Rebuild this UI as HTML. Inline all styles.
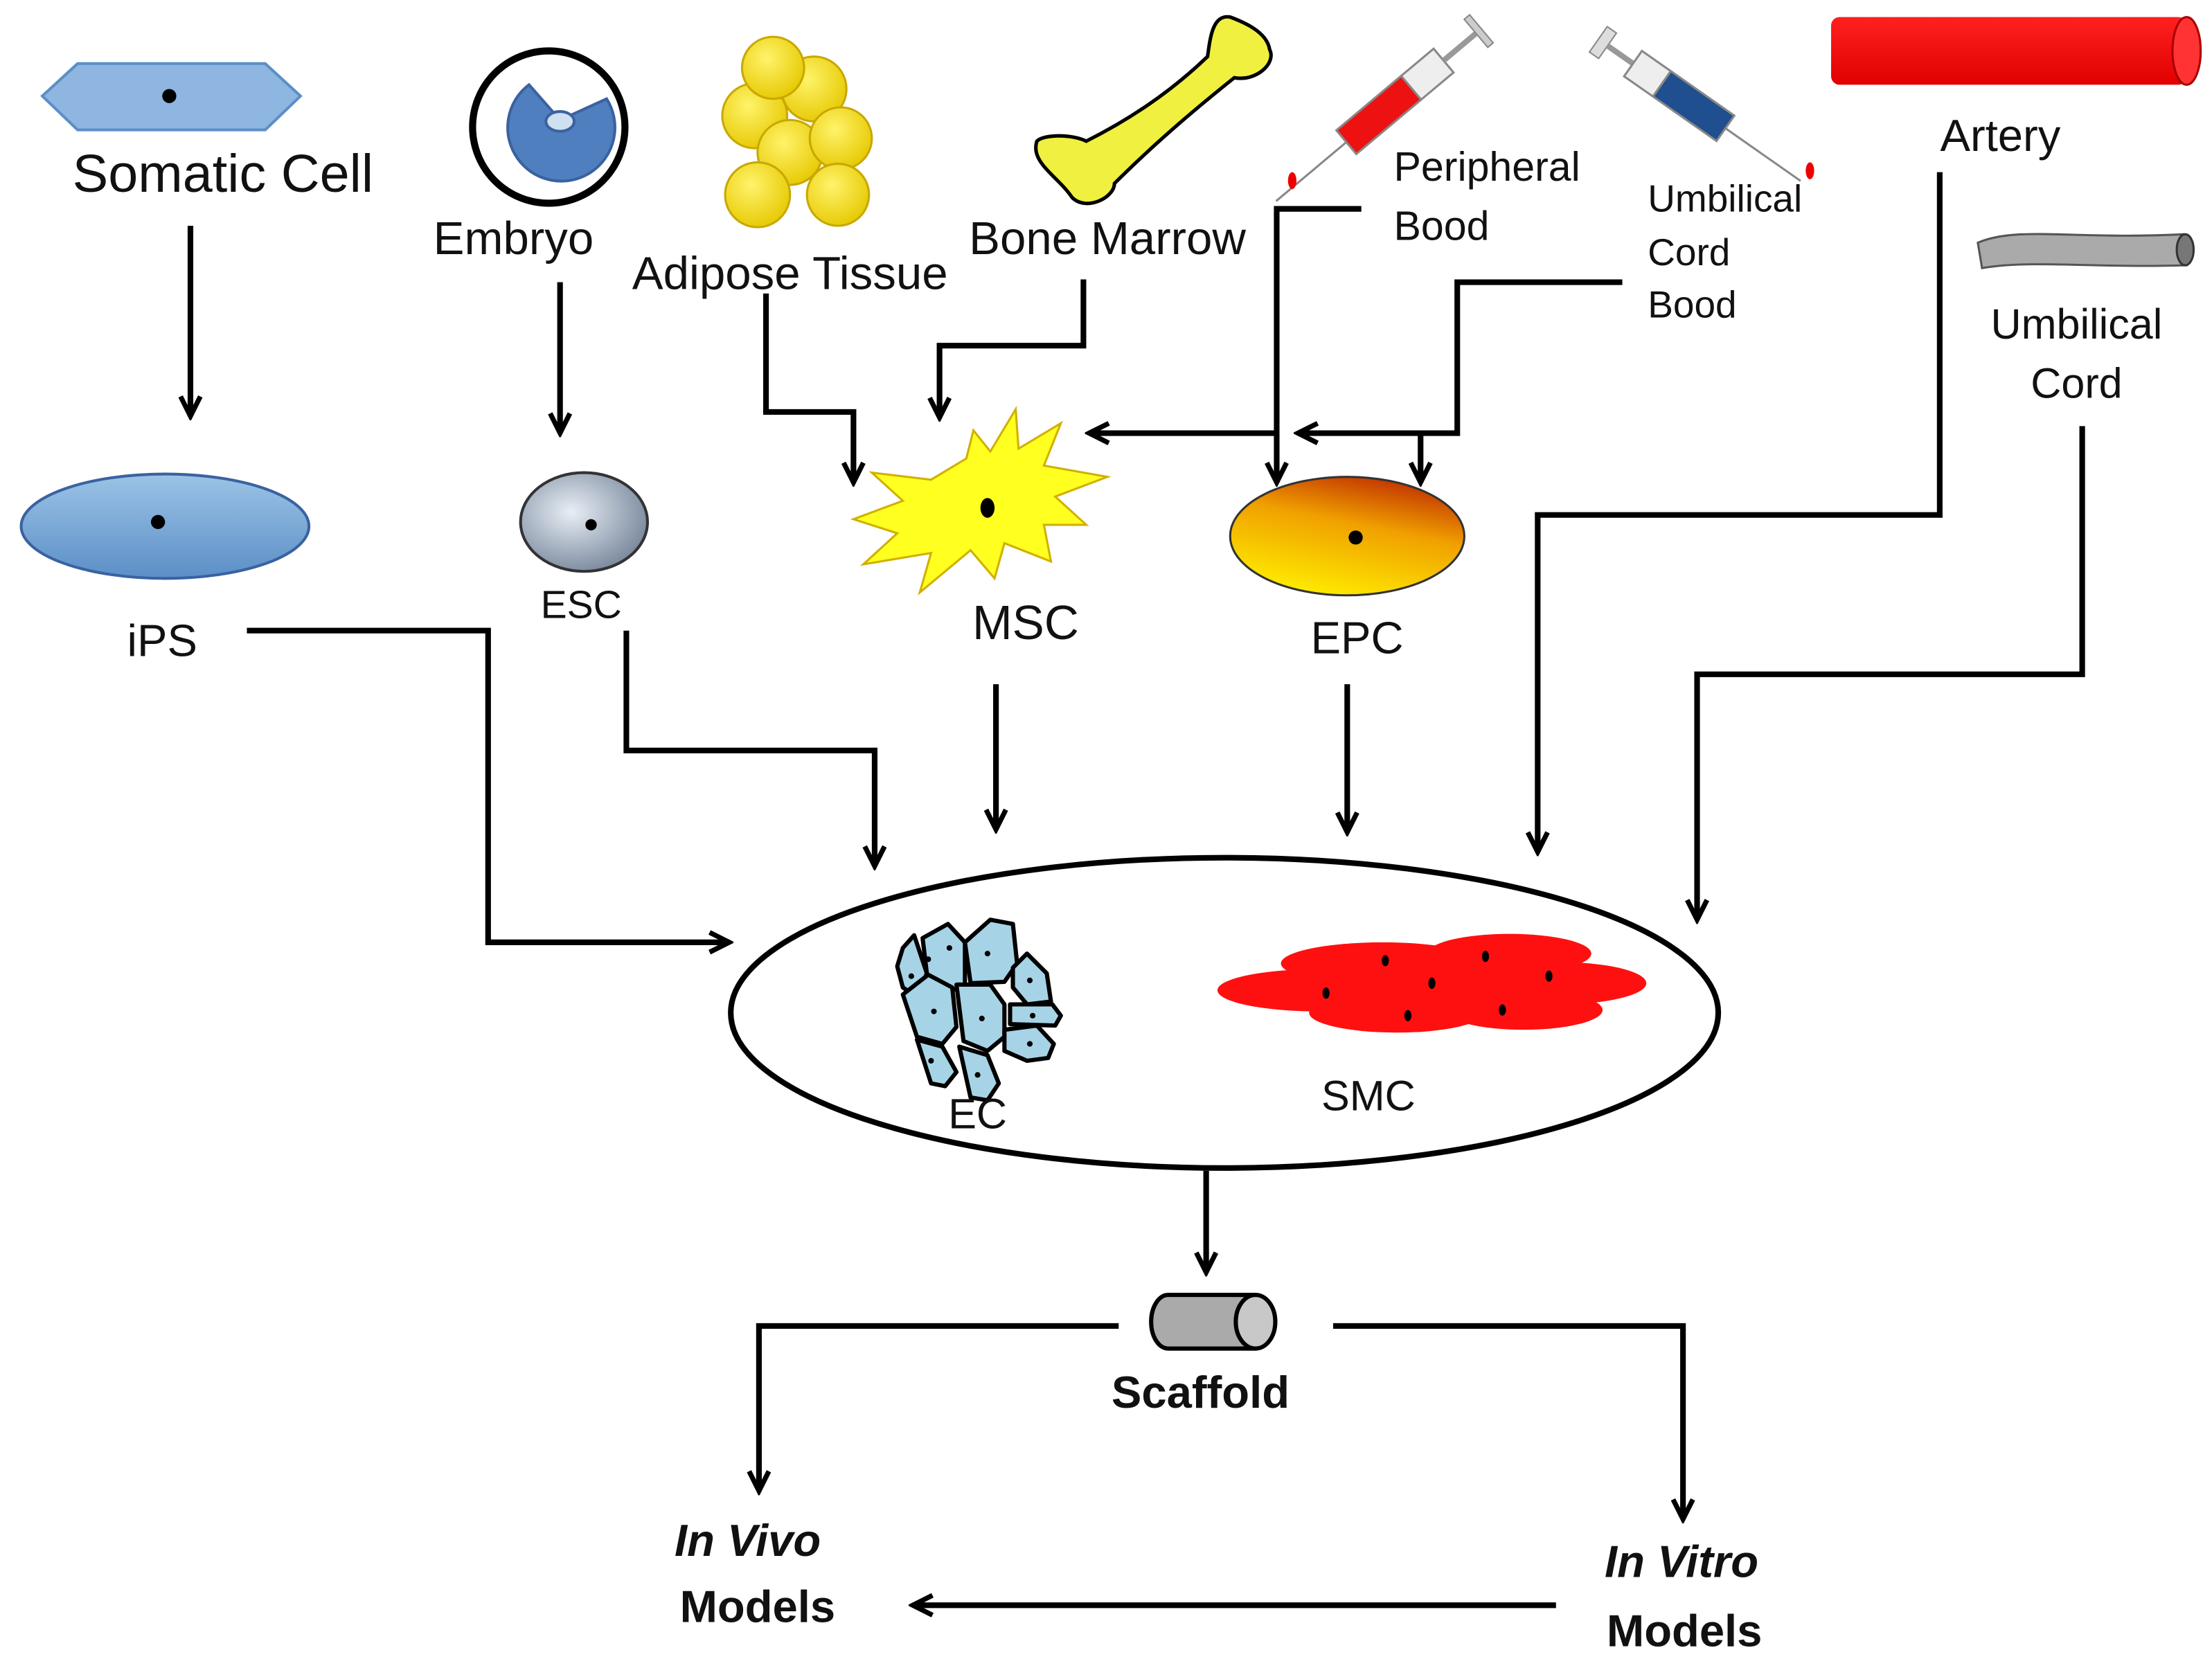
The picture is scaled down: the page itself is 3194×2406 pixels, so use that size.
<!DOCTYPE html>
<html><head><meta charset="utf-8"><style>
html,body{margin:0;padding:0;background:#fff;}
svg{display:block;}
text{font-family:"Liberation Sans",sans-serif;fill:#111;}
</style></head><body>
<svg width="3194" height="2406" viewBox="0 0 1568 1181" xmlns="http://www.w3.org/2000/svg">
<defs>
<marker id="a" viewBox="0 0 20 20" refX="17" refY="10" markerWidth="20" markerHeight="20" markerUnits="userSpaceOnUse" orient="auto">
<polyline points="3,3 17,10 3,17" fill="none" stroke="#000" stroke-width="3.5"/>
</marker>
<linearGradient id="blue" x1="0" y1="0" x2="0" y2="1"><stop offset="0" stop-color="#9cc3e6"/><stop offset="1" stop-color="#5b8fc7"/></linearGradient>
<radialGradient id="gray" cx="0.4" cy="0.4" r="0.7"><stop offset="0" stop-color="#e8eef5"/><stop offset="1" stop-color="#6f7f95"/></radialGradient>
<linearGradient id="epc" x1="0.3" y1="1" x2="0.7" y2="0"><stop offset="0" stop-color="#ffee00"/><stop offset="0.6" stop-color="#f0a000"/><stop offset="1" stop-color="#c03000"/></linearGradient>
<radialGradient id="yel" cx="0.4" cy="0.35" r="0.7"><stop offset="0" stop-color="#fff36a"/><stop offset="1" stop-color="#e6c800"/></radialGradient>
<linearGradient id="art" x1="0" y1="0" x2="0" y2="1"><stop offset="0" stop-color="#ff2020"/><stop offset="1" stop-color="#e00000"/></linearGradient>
</defs>
<rect width="1568" height="1181" fill="#fff"/>

<!-- Somatic cell -->
<polygon points="30,68 55,45 188,45 213,68 188,92 55,92" fill="#8fb6e0" stroke="#5b8fc7" stroke-width="2"/>
<circle cx="120" cy="68" r="5" fill="#000"/>
<text x="158" y="136" font-size="38" text-anchor="middle">Somatic Cell</text>

<!-- Embryo -->
<circle cx="389" cy="90" r="54" fill="#fff" stroke="#000" stroke-width="5"/>
<path d="M397,85 L430,70 A38,38 0 1 1 375,60 Z" fill="#4f7fbf" stroke="#3a62a0" stroke-width="2"/>
<ellipse cx="397" cy="86" rx="10" ry="7" fill="#cfe0f0" stroke="#3a62a0" stroke-width="2"/>
<text x="364" y="180" font-size="33" text-anchor="middle">Embryo</text>

<!-- Adipose -->
<g fill="url(#yel)" stroke="#c8a800" stroke-width="1.5">
<circle cx="535" cy="82" r="23"/><circle cx="577" cy="63" r="23"/><circle cx="548" cy="48" r="22"/>
<circle cx="560" cy="108" r="23"/><circle cx="596" cy="98" r="22"/><circle cx="537" cy="138" r="23"/><circle cx="594" cy="138" r="22"/>
</g>
<text x="560" y="205" font-size="33" text-anchor="middle">Adipose Tissue</text>

<!-- Bone -->
<path d="M735,100 C730,115 750,125 760,140 C770,150 790,140 790,130 C820,100 850,75 875,55 C890,58 905,45 900,35 C898,22 880,15 872,12 C860,10 858,25 856,40 C830,65 800,85 770,100 C760,95 740,95 735,100 Z" fill="#f0f040" stroke="#000" stroke-width="2.5"/>
<text x="785" y="180" font-size="33" text-anchor="middle">Bone Marrow</text>

<!-- Red syringe -->
<g transform="rotate(-40 985 75)">
<line x1="880" y1="75" x2="945" y2="75" stroke="#888" stroke-width="1.5"/>
<rect x="945" y="64" width="60" height="22" fill="#ee1111" stroke="#888" stroke-width="1.5"/>
<rect x="1005" y="64" width="30" height="22" fill="#eee" stroke="#888" stroke-width="1.5"/>
<line x1="1035" y1="75" x2="1065" y2="75" stroke="#999" stroke-width="4"/>
<rect x="1065" y="62" width="5" height="26" fill="#ccc" stroke="#888"/>
</g>
<ellipse cx="916" cy="128" rx="3" ry="6" fill="#e00"/>
<text x="988" y="128" font-size="29">Peripheral</text>
<text x="988" y="170" font-size="29">Bood</text>

<!-- Blue syringe -->
<g transform="rotate(35 1195 70)">
<rect x="1120" y="60" width="8" height="22" fill="#ddd" stroke="#888"/>
<line x1="1128" y1="71" x2="1150" y2="71" stroke="#999" stroke-width="4"/>
<rect x="1150" y="60" width="25" height="22" fill="#eee" stroke="#888" stroke-width="1.5"/>
<rect x="1175" y="60" width="55" height="22" fill="#1f4f8f" stroke="#888" stroke-width="1.5"/>
<line x1="1230" y1="71" x2="1295" y2="71" stroke="#888" stroke-width="1.5"/>
</g>
<ellipse cx="1283" cy="121" rx="3" ry="6" fill="#e00"/>
<text x="1168" y="150" font-size="27">Umbilical</text>
<text x="1168" y="188" font-size="27">Cord</text>
<text x="1168" y="225" font-size="27">Bood</text>

<!-- Artery -->
<rect x="1298" y="12" width="252" height="48" rx="6" fill="url(#art)"/>
<ellipse cx="1550" cy="36" rx="10" ry="24" fill="#ff3333" stroke="#aa0000" stroke-width="1.5"/>
<text x="1418" y="107" font-size="32" text-anchor="middle">Artery</text>

<!-- Umbilical cord tube -->
<path d="M1402,172 C1430,160 1470,170 1548,166 L1550,188 C1480,190 1440,184 1405,190 Z" fill="#aaa" stroke="#555" stroke-width="1.5"/>
<ellipse cx="1549" cy="177" rx="6" ry="11" fill="#777" stroke="#333" stroke-width="1.5"/>
<text x="1472" y="240" font-size="30" text-anchor="middle">Umbilical</text>
<text x="1472" y="282" font-size="30" text-anchor="middle">Cord</text>

<!-- iPS -->
<ellipse cx="117" cy="373" rx="102" ry="37" fill="url(#blue)" stroke="#3a62a0" stroke-width="2"/>
<circle cx="112" cy="370" r="5" fill="#000"/>
<text x="115" y="465" font-size="32" text-anchor="middle">iPS</text>

<!-- ESC -->
<ellipse cx="414" cy="370" rx="45" ry="35" fill="url(#gray)" stroke="#333" stroke-width="2"/>
<circle cx="419" cy="372" r="4" fill="#000"/>
<text x="412" y="438" font-size="28" text-anchor="middle">ESC</text>

<!-- MSC star -->
<polygon points="685,325 690,305 702,320 720,290 722,318 752,300 740,330 785,338 748,352 770,372 740,372 745,398 712,385 705,410 688,390 652,420 660,392 612,400 636,378 605,368 640,355 618,335 660,340" fill="#ffff20" stroke="#d0b000" stroke-width="1.5"/>
<ellipse cx="700" cy="360" rx="5" ry="7" fill="#000"/>
<text x="727" y="453" font-size="34" text-anchor="middle">MSC</text>

<!-- EPC -->
<ellipse cx="955" cy="380" rx="83" ry="42" fill="url(#epc)" stroke="#333" stroke-width="1.5"/>
<circle cx="961" cy="381" r="5" fill="#000"/>
<text x="962" y="463" font-size="32" text-anchor="middle">EPC</text>

<!-- Main ellipse -->
<ellipse cx="868" cy="718" rx="350" ry="110" fill="#fff" stroke="#000" stroke-width="4"/>

<!-- EC cluster -->
<g fill="#a6d4e6" stroke="#000" stroke-width="3" stroke-linejoin="round">
<path d="M640,672 L648,663 L657,690 L650,707 L640,700 L636,685 Z"/>
<path d="M654,665 L672,655 L684,668 L684,700 L668,703 L657,690 Z"/>
<path d="M684,668 L702,652 L718,655 L721,683 L712,696 L688,697 Z"/>
<path d="M640,705 L658,691 L675,700 L678,728 L668,740 L650,735 Z"/>
<path d="M678,698 L702,698 L712,712 L712,735 L700,745 L683,738 Z"/>
<path d="M718,686 L728,676 L742,690 L745,710 L728,712 L718,700 Z"/>
<path d="M650,737 L668,742 L678,760 L670,770 L660,768 Z"/>
<path d="M680,742 L700,748 L708,768 L700,780 L688,778 Z"/>
<path d="M716,712 L746,712 L752,720 L748,727 L716,726 Z"/>
<path d="M712,730 L735,727 L747,740 L743,750 L728,752 L712,745 Z"/>
</g>
<g fill="#000"><circle cx="658" cy="680" r="2"/><circle cx="673" cy="672" r="2"/><circle cx="700" cy="676" r="2"/><circle cx="646" cy="692" r="2"/><circle cx="662" cy="717" r="2"/><circle cx="696" cy="722" r="2"/><circle cx="730" cy="695" r="2"/><circle cx="660" cy="752" r="2"/><circle cx="693" cy="762" r="2"/><circle cx="732" cy="720" r="2"/><circle cx="730" cy="740" r="2"/></g>
<text x="693" y="800" font-size="30" text-anchor="middle">EC</text>

<!-- SMC -->
<g fill="#ff1010">
<ellipse cx="980" cy="683" rx="72" ry="15"/><ellipse cx="1070" cy="676" rx="58" ry="14"/>
<ellipse cx="935" cy="702" rx="72" ry="15"/><ellipse cx="1105" cy="697" rx="62" ry="15"/>
<ellipse cx="1025" cy="698" rx="55" ry="14"/>
<ellipse cx="990" cy="718" rx="62" ry="14"/><ellipse cx="1080" cy="716" rx="56" ry="14"/>
</g>
<g fill="#000"><ellipse cx="982" cy="681" rx="2.5" ry="4"/><ellipse cx="1053" cy="678" rx="2.5" ry="4"/><ellipse cx="940" cy="704" rx="2.5" ry="4"/><ellipse cx="1015" cy="697" rx="2.5" ry="4"/><ellipse cx="1098" cy="692" rx="2.5" ry="4"/><ellipse cx="998" cy="720" rx="2.5" ry="4"/><ellipse cx="1065" cy="716" rx="2.5" ry="4"/></g>
<text x="970" y="787" font-size="30" text-anchor="middle">SMC</text>

<!-- Scaffold -->
<path d="M828,918 L890,918 A15,20 0 0 1 890,956 L828,956 A12,19 0 0 1 828,918 Z" fill="#aaa" stroke="#000" stroke-width="3"/>
<ellipse cx="890" cy="937" rx="14" ry="19" fill="#c8c8c8" stroke="#000" stroke-width="3"/>
<text x="851" y="998" font-size="32" font-weight="bold" text-anchor="middle">Scaffold</text>

<text x="530" y="1103" font-size="32" font-weight="bold" font-style="italic" text-anchor="middle">In Vivo</text>
<text x="537" y="1150" font-size="32" font-weight="bold" text-anchor="middle">Models</text>
<text x="1192" y="1118" font-size="32" font-weight="bold" font-style="italic" text-anchor="middle">In Vitro</text>
<text x="1194" y="1167" font-size="32" font-weight="bold" text-anchor="middle">Models</text>

<!-- Connectors -->
<g fill="none" stroke="#000" stroke-width="4" marker-end="url(#a)">
<polyline points="135,160 135,295"/>
<polyline points="397,200 397,307"/>
<polyline points="543,208 543,292 605,292 605,342"/>
<polyline points="768,198 768,245 666,245 666,296"/>
<polyline points="965,148 905,148 905,342"/>
<polyline points="905,307 772,307"/>
<polyline points="1150,200 1033,200 1033,307 920,307"/>
<polyline points="1007,307 1007,342"/>
<polyline points="175,447 346,447 346,668 517,668"/>
<polyline points="444,447 444,532 620,532 620,614"/>
<polyline points="706,485 706,588"/>
<polyline points="955,485 955,590"/>
<polyline points="1375,122 1375,365 1090,365 1090,604"/>
<polyline points="1476,302 1476,478 1203,478 1203,652"/>
<polyline points="855,830 855,902"/>
<polyline points="793,940 538,940 538,1057"/>
<polyline points="945,940 1193,940 1193,1077"/>
<polyline points="1103,1138 647,1138"/>
</g>
</svg>
</body></html>
